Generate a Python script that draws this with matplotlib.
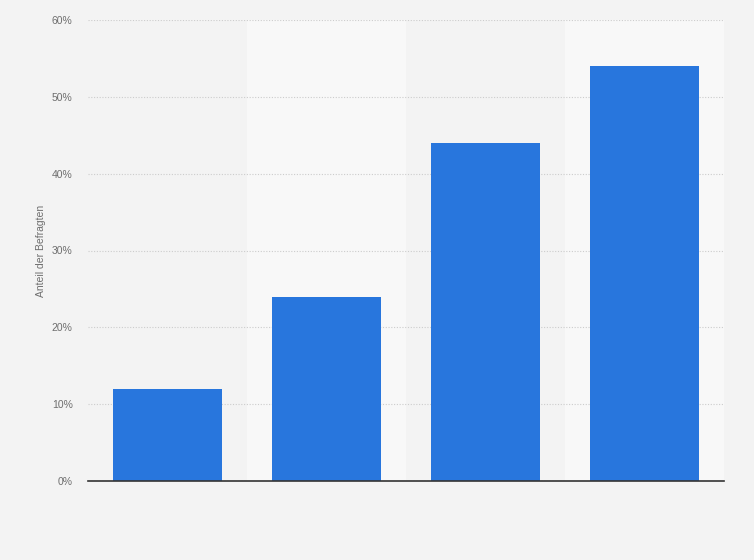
import matplotlib
matplotlib.use("Agg")
import matplotlib.pyplot as plt
from matplotlib.ticker import FuncFormatter

plt.rcParams["font.family"] = ["Liberation Sans", "DejaVu Sans"]

categories = ["A", "B", "C", "D"]
values = [12, 24, 44, 54]
yticks = [0, 10, 20, 30, 40, 50, 60]
ylabel = "Anteil der Befragten"

fig = plt.figure(figsize=(7.54, 5.6), dpi=100)
fig.patch.set_facecolor("#f3f3f3")
ax = fig.add_axes([88/754, 79/560, 636/754, 461/560])
ax.set_facecolor("#f3f3f3")

x = list(range(len(categories)))
for i in x:
    if i % 2 == 1:
        ax.axvspan(i - 0.5, i + 0.5, color="#f8f8f8", zorder=0, lw=0)

ax.set_axisbelow(True)
ax.grid(axis="y", color="#cccccc", linestyle=(0, (1, 1.5)), linewidth=0.8, zorder=1)
ax.bar(x, values, width=0.686, color="#2876dd", zorder=3)

ax.set_xlim(-0.5, len(categories) - 0.5)
ax.set_ylim(0, 60)
ax.set_yticks(yticks)
ax.yaxis.set_major_formatter(FuncFormatter(lambda v, p: f"{int(v)}%"))
ax.set_xticks([])
ax.tick_params(axis="y", length=0, pad=11, labelsize=7.5, labelcolor="#6e6e6e")
for s in ["top", "right", "left"]:
    ax.spines[s].set_visible(False)
ax.spines["bottom"].set_color("#333333")
ax.spines["bottom"].set_linewidth(1.2)
ax.spines["bottom"].set_zorder(4)

ax.set_ylabel(ylabel, fontsize=7.5, color="#6e6e6e", labelpad=4)

fig.savefig("out.png", dpi=100, facecolor=fig.get_facecolor())
